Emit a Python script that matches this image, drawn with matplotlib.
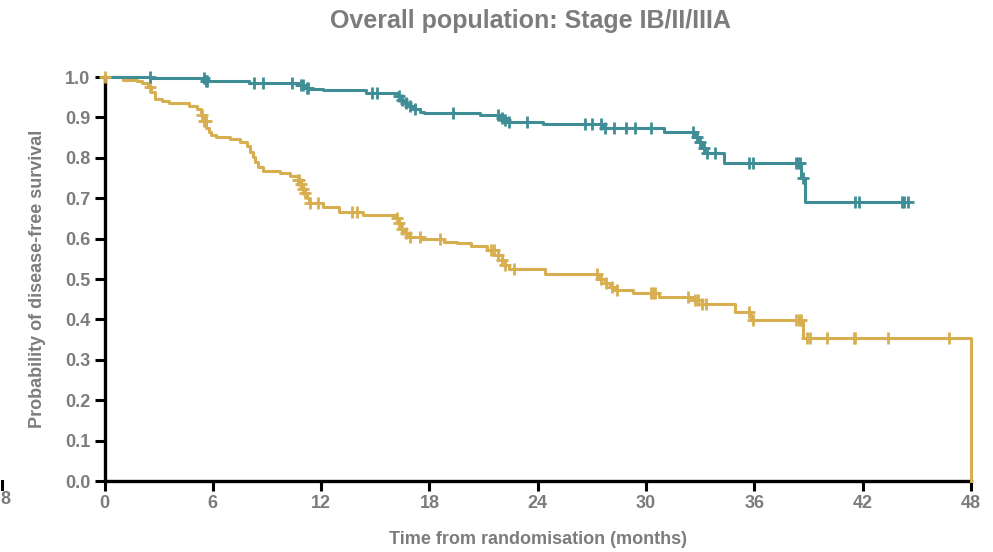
import numpy as np
import matplotlib
matplotlib.use('Agg')
import matplotlib.pyplot as plt

plt.rcParams['font.family'] = ['Liberation Sans Narrow', 'Liberation Sans', 'DejaVu Sans']

TEAL = '#3f8d95'
GOLD = '#d8af50'
GREY = '#7c7c7c'

## bras 1 : temps des évènements (mois) et survie après chaque marche
teal_t = [0, 2.6, 5.6, 8.0, 10.8, 11.1, 11.4, 12.1, 14.5, 16.2, 16.4, 16.6, 16.8, 17.1, 17.5, 17.7,
          20.8, 21.9, 22.1, 22.3, 24.3, 27.6, 31.0, 32.7, 32.9, 33.1, 33.3, 34.3, 38.6, 38.8, 44.5]
teal_s = [1.0, 0.997, 0.990, 0.986, 0.980, 0.974, 0.970, 0.967, 0.961, 0.952, 0.943, 0.935, 0.927, 0.920, 0.913, 0.910,
          0.906, 0.899, 0.893, 0.888, 0.884, 0.874, 0.863, 0.851, 0.838, 0.825, 0.813, 0.788, 0.749, 0.691, 0.691]
teal_cens = [2.5, 5.5, 5.6, 5.7, 8.3, 8.8, 10.4, 10.9, 11.0, 11.2, 11.3, 14.8, 15.1, 16.3, 16.5, 16.7, 16.9, 17.2,
             19.3, 21.8, 22.0, 22.2, 22.4, 23.4, 26.6, 27.0, 27.5, 27.7, 28.2, 28.9, 29.4, 30.3,
             32.6, 32.8, 33.0, 33.2, 33.4, 33.8, 35.7, 35.9, 38.3, 38.4, 38.5, 38.7, 41.6, 41.8, 44.2, 44.3, 44.5]

## bras 2
gold_t = [0, 1.0, 1.8, 2.1, 2.4, 2.6, 2.8, 3.2, 3.6, 4.7, 5.1, 5.35, 5.5, 5.65, 5.8, 5.9, 6.2, 6.95, 7.5, 7.9,
          8.05, 8.2, 8.35, 8.5, 8.8, 9.7, 10.3, 10.7, 10.85, 11.0, 11.1, 11.2, 11.35, 12.1, 13.0, 14.3,
          16.1, 16.3, 16.45, 16.6, 16.8, 17.6, 18.8, 19.5, 20.3, 21.2, 21.8, 22.0, 22.2, 22.4, 24.4,
          27.4, 27.7, 28.0, 28.3, 29.3, 30.7, 32.7, 33.1, 34.9, 35.8, 38.7, 48.0]
gold_s = [1.0, 0.993, 0.990, 0.986, 0.975, 0.962, 0.945, 0.941, 0.936, 0.927, 0.920, 0.905, 0.890, 0.875, 0.865, 0.856,
          0.851, 0.846, 0.840, 0.828, 0.815, 0.803, 0.790, 0.778, 0.768, 0.763, 0.755, 0.745, 0.735, 0.724, 0.713,
          0.700, 0.687, 0.679, 0.667, 0.658, 0.650, 0.638, 0.625, 0.613, 0.605, 0.600, 0.592, 0.588, 0.582, 0.573,
          0.560, 0.547, 0.535, 0.524, 0.512, 0.500, 0.490, 0.481, 0.474, 0.465, 0.456, 0.447, 0.437, 0.419, 0.399,
          0.355, 0.0]
gold_cens = [0.05, 2.5, 5.4, 5.5, 5.6, 10.7, 10.8, 10.9, 11.0, 11.1, 11.4, 11.8, 13.7, 14.0, 16.2, 16.3, 16.5, 16.7,
             16.9, 17.5, 18.6, 21.4, 21.6, 21.8, 22.0, 22.2, 22.7, 27.3, 27.5, 27.8, 28.1, 28.4, 30.3, 30.4, 30.5,
             32.3, 32.7, 32.9, 33.1, 33.3, 35.7, 35.9, 38.3, 38.45, 38.6, 38.9, 39.1, 40.0, 41.5, 41.6, 43.4, 46.8]

xticks = [0, 6, 12, 18, 24, 30, 36, 42, 48]
yticks = [0.0, 0.1, 0.2, 0.3, 0.4, 0.5, 0.6, 0.7, 0.8, 0.9, 1.0]


def surv_at(t, s, c):
   t = np.array(t)
   s = np.array(s)
   idx = np.searchsorted(t, c, side='right') - 1
   return s[idx]


fig = plt.figure(figsize=(9.93, 5.52), dpi=100)
ax = fig.add_axes([104.5/993, 71/552, 866.5/993, 404/552])

for t, s, c, col in [(gold_t, gold_s, gold_cens, GOLD), (teal_t, teal_s, teal_cens, TEAL)]:
   ax.step(t, s, where='post', color=col, lw=2.2, clip_on=False, zorder=3)
   ax.plot(c, surv_at(t, s, c), ls='none', marker='+', ms=9, mew=2.0, color=col, clip_on=False, zorder=4)

ax.set_xlim(0, 48)
ax.set_ylim(0, 1.0)
ax.set_xticks(xticks)
ax.set_yticks(yticks)
ax.set_xticklabels([str(x) for x in xticks])
ax.set_yticklabels(['%.1f' % y for y in yticks])

for side in ['top', 'right']:
   ax.spines[side].set_visible(False)
for side in ['left', 'bottom']:
   ax.spines[side].set_linewidth(2.4)
   ax.spines[side].set_color('black')

ax.tick_params(direction='out', length=7, width=2.2, color='black', labelcolor=GREY,
               labelsize=13, pad=3)
for lab in ax.get_xticklabels() + ax.get_yticklabels():
   lab.set_fontweight('bold')

ax.set_xlabel('Time from randomisation (months)', fontsize=13, fontweight='bold', color=GREY, labelpad=14)
ax.set_ylabel('Probability of disease-free survival', fontsize=13, fontweight='bold', color=GREY, labelpad=14)
fig.text(530/993, 1 - 21/552, 'Overall population: Stage IB/II/IIIA', ha='center', va='center',
         fontsize=18, fontweight='bold', color=GREY)

# reste d'un axe voisin sur le bord gauche
fig.text(0.5/993, 1 - 500/552, '8', ha='left', va='center', fontsize=13, fontweight='bold', color=GREY)
fig.add_artist(plt.Line2D([1.5/993, 1.5/993], [1 - 481/552, 1 - 489/552], color='black', lw=2.2))

fig.savefig('out.png', dpi=100)
